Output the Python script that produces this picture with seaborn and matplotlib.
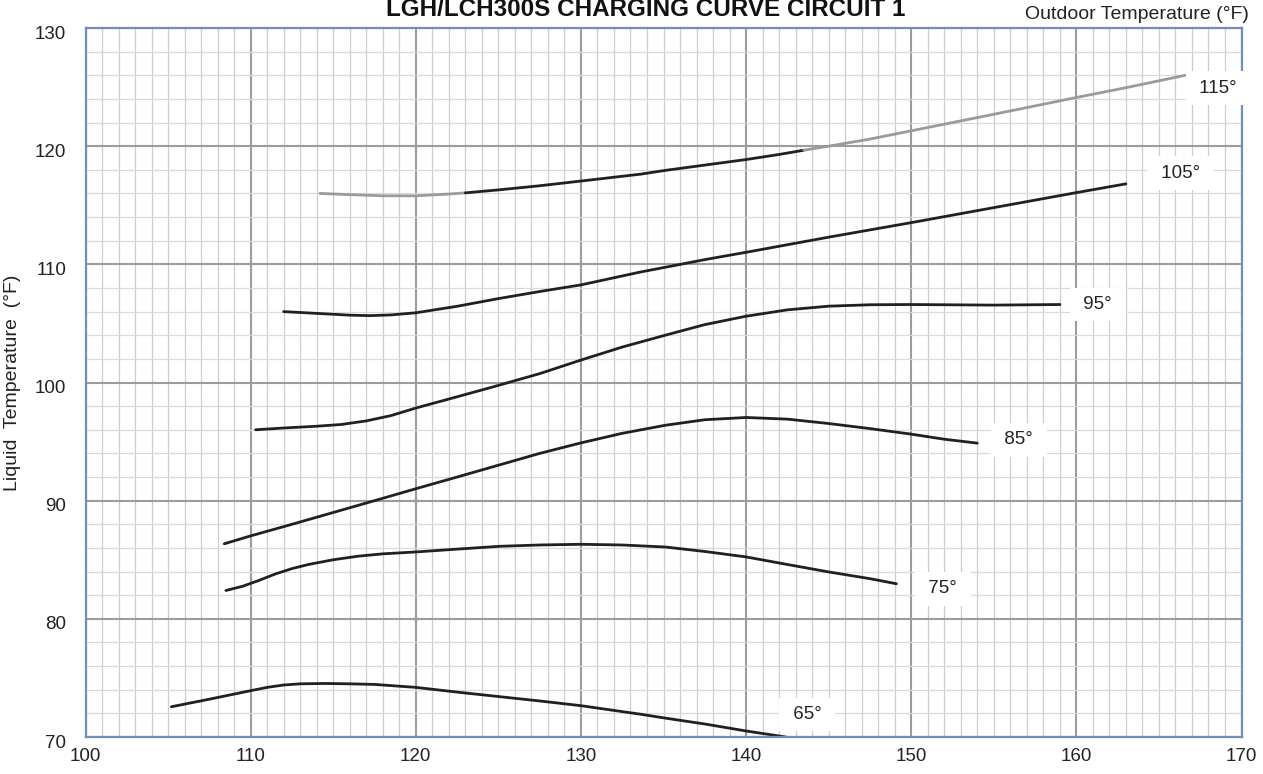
import matplotlib
matplotlib.use("Agg")

import matplotlib.pyplot as plt
import matplotlib.transforms as mtransforms
import numpy as np
import pandas as pd
import seaborn as sns
from matplotlib.ticker import MultipleLocator

# ── Data ───────────────────────────────────────────────────────────────

curve_65_x = [105.2, 107.5, 110.0, 111.0, 112.0, 113.0, 114.5, 116.0, 117.5, 120.0,
              122.5, 125.1, 127.5, 130.0, 133.6, 135.1, 137.5, 140.0, 142.4]
curve_65_y = [72.56, 73.2, 73.92, 74.2, 74.4, 74.5, 74.53, 74.5, 74.45, 74.2,
              73.8, 73.41, 73.05, 72.65, 71.93, 71.6, 71.1, 70.51, 70.0]

curve_75_x = [108.5, 109.5, 110.5, 111.5, 112.5, 113.5, 115.0, 116.5, 118.0, 120.0,
              122.5, 125.1, 127.5, 130.0, 132.5, 135.1, 137.5, 140.0, 142.5, 145.0,
              147.5, 149.1]
curve_75_y = [82.4, 82.75, 83.25, 83.8, 84.25, 84.6, 85.0, 85.3, 85.5, 85.66,
              85.9, 86.14, 86.25, 86.31, 86.25, 86.08, 85.7, 85.24, 84.6, 83.97,
              83.4, 82.97]

curve_85_x = [108.4, 110.0, 112.5, 115.0, 117.5, 120.0, 122.5, 125.0, 127.5, 130.0,
              132.5, 135.1, 137.5, 140.0, 142.5, 145.0, 147.5, 150.0, 152.0, 154.0]
curve_85_y = [86.35, 87.02, 88.0, 89.0, 90.0, 91.01, 92.0, 93.0, 94.0, 94.89,
              95.7, 96.38, 96.85, 97.04, 96.9, 96.53, 96.1, 95.63, 95.2, 94.87]

curve_95_x = [110.3, 112.0, 114.0, 115.5, 117.0, 118.5, 120.0, 122.0, 124.6, 127.5,
              130.0, 132.5, 135.1, 137.5, 140.0, 142.5, 145.0, 147.5, 150.0, 155.0,
              159.0]
curve_95_y = [96.0, 96.15, 96.3, 96.45, 96.75, 97.2, 97.84, 98.6, 99.6, 100.75,
              101.9, 103.0, 104.0, 104.9, 105.61, 106.15, 106.46, 106.58, 106.6, 106.55,
              106.6]

curve_105_x = [112.0, 114.0, 116.0, 117.2, 118.5, 120.0, 122.5, 125.0, 127.5, 130.0,
               133.6, 135.1, 137.5, 140.0, 145.0, 150.0, 155.0, 160.0, 163.0]
curve_105_y = [106.0, 105.85, 105.7, 105.66, 105.72, 105.9, 106.45, 107.1, 107.7, 108.26,
               109.35, 109.75, 110.4, 111.02, 112.3, 113.53, 114.8, 116.07, 116.81]

curve_115_x = [114.2, 116.0, 118.0, 120.0, 122.0, 123.0, 125.0, 127.5, 130.0, 133.6,
               135.1, 137.5, 140.0, 142.0, 143.5, 145.0, 147.5, 150.0, 155.0, 160.0,
               163.0, 166.6]
curve_115_y = [116.0, 115.9, 115.8, 115.8, 115.95, 116.05, 116.3, 116.65, 117.05, 117.63,
               117.95, 118.4, 118.87, 119.3, 119.66, 120.0, 120.6, 121.3, 122.7, 124.12,
               124.95, 126.0]
# the 115° curve is drawn grey outside this range, black inside it
curve_115_dark = (123.0, 143.5)

label_text = ["115°", "105°", "95°", "85°", "75°", "65°"]
label_x = [168.6, 166.3, 161.3, 156.5, 151.9, 143.7]
label_y = [124.9, 117.7, 106.6, 95.15, 82.54, 71.9]

DARK = "#231f20"
GREY = "#9a9a9a"

# ── Style ──────────────────────────────────────────────────────────────

sns.set_theme(style="white")
plt.rcParams["font.family"] = ["Liberation Sans", "DejaVu Sans"]

fig = plt.figure(figsize=(12.63, 7.74), dpi=100)
ax = fig.add_axes([0.0677, 0.0478, 0.9153, 0.916])

curves = pd.concat(
    [
        pd.DataFrame({"x": curve_65_x, "y": curve_65_y, "curve": "65"}),
        pd.DataFrame({"x": curve_75_x, "y": curve_75_y, "curve": "75"}),
        pd.DataFrame({"x": curve_85_x, "y": curve_85_y, "curve": "85"}),
        pd.DataFrame({"x": curve_95_x, "y": curve_95_y, "curve": "95"}),
        pd.DataFrame({"x": curve_105_x, "y": curve_105_y, "curve": "105"}),
    ],
    ignore_index=True,
)
sns.lineplot(data=curves, x="x", y="y", units="curve", estimator=None, sort=False,
             color=DARK, linewidth=2.0, ax=ax, zorder=3)

c115 = pd.DataFrame({"x": curve_115_x, "y": curve_115_y})
lo, hi = curve_115_dark
pieces = [
    (c115[c115["x"] <= lo], GREY),
    (c115[(c115["x"] >= lo) & (c115["x"] <= hi)], DARK),
    (c115[c115["x"] >= hi], GREY),
]
for piece, col in pieces:
    sns.lineplot(data=piece, x="x", y="y", sort=False, color=col, linewidth=2.0,
                 ax=ax, zorder=3)

for txt, lx, ly in zip(label_text, label_x, label_y):
    ax.text(lx, ly, " " + txt + " ", ha="center", va="center", fontsize=13.5,
            color="#222222", zorder=5, clip_on=False,
            bbox=dict(boxstyle="square,pad=0.45", fc="white", ec="none"))

# ── Axes / grid ────────────────────────────────────────────────────────

ax.set_xlim(100, 170)
ax.set_ylim(70, 130)
ax.xaxis.set_major_locator(MultipleLocator(10))
ax.xaxis.set_minor_locator(MultipleLocator(1))
ax.yaxis.set_major_locator(MultipleLocator(10))
ax.yaxis.set_minor_locator(MultipleLocator(2))
ax.grid(which="major", color="#9c9c9c", linewidth=1.5, zorder=1)
ax.grid(which="minor", axis="x", color="#cdcdcd", linewidth=0.9, zorder=0)
ax.grid(which="minor", axis="y", color="#dadada", linewidth=0.9, zorder=0)
ax.set_axisbelow(True)
ax.tick_params(which="both", length=0, labelsize=13.5, labelcolor="#222222")
ax.tick_params(axis="y", pad=14)
ax.tick_params(axis="x", pad=8)
for sp in ax.spines.values():
    sp.set_color("#7090b8")
    sp.set_linewidth(1.6)
    sp.set_zorder(4)

# y tick labels sit a little below their gridlines in the original
shift = mtransforms.ScaledTranslation(0, -4 / 100, fig.dpi_scale_trans)
for lab in ax.get_yticklabels():
    lab.set_transform(lab.get_transform() + shift)
ax.get_xticklabels()[0].set_horizontalalignment("left")

ax.set_xlabel("")
ax.set_ylabel("Liquid  Temperature  (°F)", fontsize=14, color="#222222")
ax.yaxis.set_label_coords(-0.056, 0.5)

fig.text(0.511, 1 - 16 / 774, "LGH/LCH300S CHARGING CURVE CIRCUIT 1", ha="center",
         va="baseline", fontsize=17.5, fontweight="bold", color="#111111")
fig.text(0.989, 0.981, "Outdoor Temperature (°F)", ha="right", va="center",
         fontsize=14, color="#222222")

fig.savefig("out.png", dpi=100)
